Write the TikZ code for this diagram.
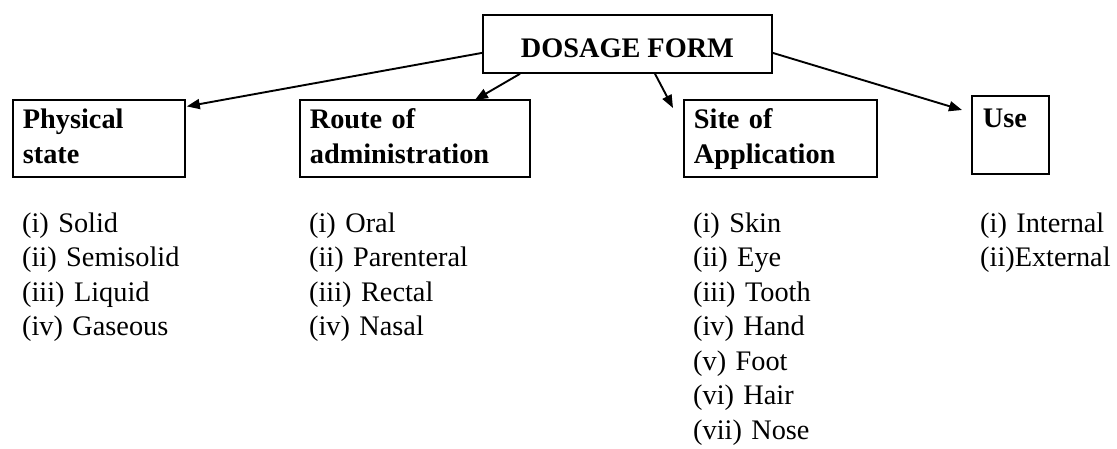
\documentclass[tikz,border=0pt]{standalone}
\usepackage{fontspec}
\setmainfont{Liberation Serif}
\usetikzlibrary{arrows.meta}
\tikzset{
  catbox/.style={draw, line width=1.8pt, anchor=north west, inner sep=0pt, inner xsep=10pt,
    font=\bfseries\fontsize{28.3}{34.5}\selectfont, text height=29pt, text depth=48pt},
  itemlist/.style={anchor=base west, inner sep=0pt, text width=170pt,
    font=\fontsize{28.3}{34.5}\selectfont},
  link/.style={line width=1.9pt, -{Triangle[length=13pt,width=10pt]}}
}
\begin{document}
\begin{tikzpicture}[x=1pt,y=-1pt]
\useasboundingbox (0,0) rectangle (1117,448);
% top box
\node[catbox, minimum width=289pt, text height=43pt, text depth=15pt] (dosage) at (482,14) {DOSAGE FORM};
% category boxes
\node[catbox, text width=152pt] (phys) at (12,99) {Physical\\state};
\node[catbox, text width=210pt] (route) at (299,99) {Route of\\administration};
\node[catbox, text width=173pt] (site) at (683,99) {Site of\\Application};
\node[catbox, inner xsep=11pt, text width=55pt, text height=32pt, text depth=46pt] (use) at (971,95) {Use};
% lists
\node[itemlist] (physlist) at (22,232) {(i) Solid\\(ii) Semisolid\\(iii) Liquid\\(iv) Gaseous};
\node[itemlist] (routelist) at (309,232) {(i) Oral\\(ii) Parenteral\\(iii) Rectal\\(iv) Nasal};
\node[itemlist] (sitelist) at (693,232) {(i) Skin\\(ii) Eye\\(iii) Tooth\\(iv) Hand\\(v) Foot\\(vi) Hair\\(vii) Nose};
\node[itemlist, text width=135pt] (uselist) at (980,232) {(i) Internal\\(ii)External};
% arrows
\draw[link] ([yshift=-9pt]dosage.west) -- ([xshift=1pt,yshift=32pt]phys.east);
\draw[link] ([xshift=38pt]dosage.south west) -- ([xshift=60pt,yshift=-1pt]route.north);
\draw[link] ([xshift=173pt]dosage.south west) -- ([xshift=-10pt,yshift=-9pt]site.north west);
\draw[link] ([yshift=-9pt]dosage.east) -- ([xshift=-9pt,yshift=-15pt]use.north west);
\end{tikzpicture}
\end{document}
